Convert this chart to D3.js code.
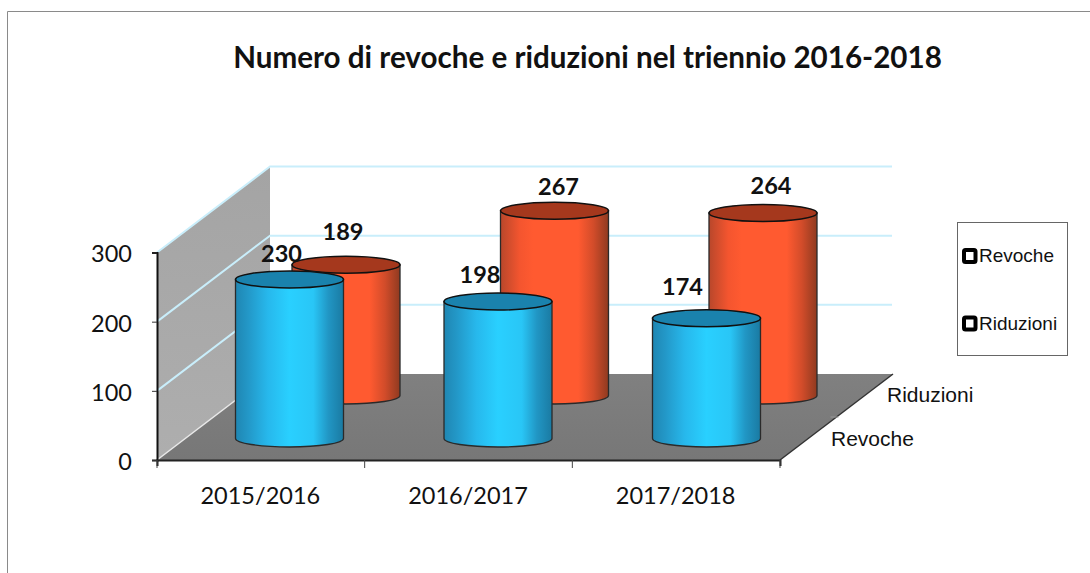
<!DOCTYPE html>
<html><head><meta charset="utf-8">
<script src="https://cdn.jsdelivr.net/npm/d3@7/dist/d3.min.js"></script>
<style>html,body{margin:0;padding:0;background:#fff}svg{display:block}</style>
</head><body><svg id="c" width="1090" height="573"></svg>
<script>
const categories = ["2015/2016","2016/2017","2017/2018"];
const seriesNames = ["Revoche","Riduzioni"];
const revoche = [230,198,174];
const riduzioni = [189,267,264];
const yTicks = [0,100,200,300];
const title = "Numero di revoche e riduzioni nel triennio 2016-2018";

const svg = d3.select("#c");
const X0=157,X1=780,Y0=460,Y300=252.5,DX=113,DY=-86;
const x = d3.scaleBand().domain(categories).range([X0,X1]);
const xBars = d3.scaleBand().domain(categories).range([X0,X0+3*208.5]);
const y = d3.scaleLinear().domain([0,300]).range([Y0,Y300]);
const depth = d3.scaleBand().domain(seriesNames).range([0,1]);
const RX=54, RY=8.5;
const labelNudge = {Revoche:[[-8,-25],[-18,-27],[-24,-31]],Riduzioni:[[-3,-33],[4,-24],[8,-27]]};
const FONT="Lato";

const defs = svg.append("defs");
function cylGrad(id,stops){
  const g=defs.append("linearGradient").attr("id",id);
  stops.forEach(s=>g.append("stop").attr("offset",s[0]).attr("stop-color",s[1]));
}
cylGrad("blue",[[0,"#1f86b2"],[.12,"#2398c8"],[.3,"#27b8ec"],[.5,"#29d0ff"],[.72,"#29c6f6"],[.86,"#2196c4"],[1,"#1a7aa2"]]);
cylGrad("red",[[0,"#b8472b"],[.18,"#f4552f"],[.3,"#ff5a30"],[.72,"#ff5a30"],[.86,"#d24c2a"],[1,"#8f3a20"]]);
const wg=defs.append("linearGradient").attr("id","wall").attr("x1",0).attr("x2",0).attr("y1",0).attr("y2",1);
wg.append("stop").attr("offset",0).attr("stop-color","#a4a4a4");
wg.append("stop").attr("offset",1).attr("stop-color","#aeaeae");
const fg=defs.append("linearGradient").attr("id","floor").attr("x1",0).attr("x2",0).attr("y1",0).attr("y2",1);
fg.append("stop").attr("offset",0).attr("stop-color","#808080");
fg.append("stop").attr("offset",1).attr("stop-color","#777777");

// outer frame
svg.append("path").attr("d","M7.5,573V11.5H1090").attr("fill","none").attr("stroke","#8a8a8a").attr("stroke-width",1);

// walls
const line=d3.line();
svg.append("path").attr("d",line([[X0,Y0],[X0+DX,Y0+DY],[X0+DX,Y300+DY],[X0,Y300]])+"Z").attr("fill","url(#wall)");
svg.append("path").attr("d",line([[X0,Y0],[X0+DX,Y0+DY],[X1+DX,Y0+DY],[X1,Y0]])+"Z").attr("fill","url(#floor)");
// gridlines
yTicks.slice(1).forEach(t=>{
  svg.append("path").attr("d",line([[X0,y(t)],[X0+DX,y(t)+DY],[X1+DX-1,y(t)+DY]]))
    .attr("fill","none").attr("stroke","#c9eefb").attr("stroke-width",2);
});
svg.append("path").attr("d",line([[X0,Y0],[X0+DX,Y0+DY]])).attr("stroke","#e8e8e8").attr("stroke-width",1.5);
svg.append("path").attr("d",line([[X1,Y0],[X1+DX,Y0+DY]])).attr("stroke","#333").attr("stroke-width",1.5);
svg.append("path").attr("d",line([[X1+DX*0.5+2,Y0+DY*0.5],[X1+DX*0.5-6,Y0+DY*0.5]])).attr("stroke","#999").attr("stroke-width",1);

// axes
const yAxis = d3.axisLeft(y).tickValues(yTicks).tickSize(5).tickFormat(d3.format("d"));
const ya = svg.append("g").attr("transform",`translate(${X0},0)`).call(yAxis);
ya.select(".domain").attr("stroke","#111").attr("stroke-width",2);
ya.selectAll(".tick line").attr("stroke","#333");
ya.selectAll("text").attr("font-family",FONT).attr("font-size",23.5).attr("fill","#111").attr("x",-25).attr("dy","0.4em");
const xAxis = d3.axisBottom(x).tickSize(6).tickSizeOuter(6).tickValues([]);
const xa = svg.append("g").attr("transform",`translate(0,${Y0})`).call(xAxis);
xa.select(".domain").attr("stroke","#222").attr("stroke-width",2);
[X0,...categories.map(c=>x(c)+x.step())].forEach(v=>{
  xa.append("line").attr("x1",v).attr("x2",v).attr("y1",0).attr("y2",8).attr("stroke","#444");
});
categories.forEach(c=>{
  svg.append("text").attr("x",x(c)+x.bandwidth()/2-0.5).attr("y",504).attr("text-anchor","middle")
    .attr("font-family",FONT).attr("font-size",23.5).attr("fill","#111").text(c);
});

// cylinders: back series first
function cyl(cat,val,ser){
  const d=depth(ser)+depth.bandwidth()/2;
  const cx=xBars(cat)+xBars.bandwidth()/2+DX*d;
  const by=y(0)+DY*d;
  const ty=by-(y(0)-y(val));
  const g=svg.append("g");
  const fill=ser==="Revoche"?"url(#blue)":"url(#red)";
  g.append("path").attr("d",`M${cx-RX},${ty}V${by}A${RX},${RY} 0 0 0 ${cx+RX},${by}V${ty}Z`)
    .attr("fill",fill).attr("stroke","#2a2a2a").attr("stroke-width",1.3);
  g.append("ellipse").attr("cx",cx).attr("cy",ty).attr("rx",RX).attr("ry",RY)
    .attr("fill",ser==="Revoche"?"#1a82ad":"#a5381d").attr("stroke","#111").attr("stroke-width",1.5);
  return [cx,ty];
}
const tops=[];
[[riduzioni,"Riduzioni"],[revoche,"Revoche"]].forEach(([vals,ser])=>{
  categories.forEach((c,i)=>{
    const p=cyl(c,vals[i],ser);
    tops.push([p[0]+labelNudge[ser][i][0],p[1]+labelNudge[ser][i][1],vals[i]]);
  });
});
tops.forEach(t=>{
  svg.append("text").attr("x",t[0]).attr("y",t[1]+8).attr("text-anchor","middle")
    .attr("font-family",FONT).attr("font-weight",700).attr("font-size",23.5).attr("fill","#111").text(t[2]);
});

// title
svg.append("text").attr("x",587.5).attr("y",68).attr("text-anchor","middle")
  .attr("font-family",FONT).attr("font-weight",700).attr("font-size",29.6).attr("fill","#111").text(title);

// depth labels
[["Revoche",831,446],["Riduzioni",887,402]].forEach(a=>{
  svg.append("text").attr("x",a[1]).attr("y",a[2]).attr("font-family","'Liberation Sans'").attr("font-size",21).attr("fill","#111").text(a[0]);
});

// legend
svg.append("rect").attr("x",957.5).attr("y",222.5).attr("width",110).attr("height",133).attr("fill","#fff").attr("stroke","#666");
seriesNames.forEach((s,i)=>{
  const ly=256+i*67.5;
  svg.append("rect").attr("x",964).attr("y",ly-6).attr("width",11.5).attr("height",12).attr("rx",1.5).attr("fill","#fff").attr("stroke","#000").attr("stroke-width",4);
  svg.append("text").attr("x",979).attr("y",ly+6).attr("font-family","'Liberation Sans'").attr("font-size",19).attr("fill","#111").text(s);
});
</script></body></html>
